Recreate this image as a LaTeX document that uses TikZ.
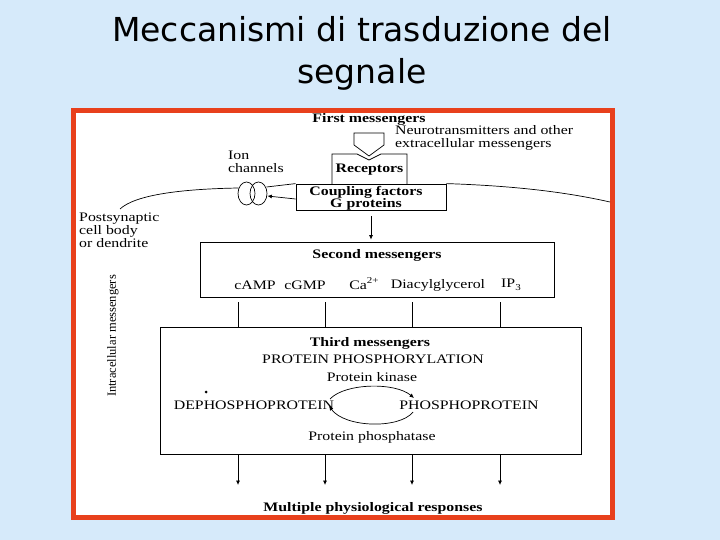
\documentclass[tikz,border=0pt]{standalone}
\usepackage{fontspec}
\setmainfont{Liberation Serif}[FakeStretch=1.22]
\newfontfamily\vfont{Liberation Serif}
\newfontfamily\titlefont{DejaVu Sans}
\usetikzlibrary{arrows.meta,shapes.geometric}
\definecolor{bgblue}{RGB}{214,234,250}
\definecolor{framered}{RGB}{232,64,28}
\newcommand{\supr}[1]{\raisebox{0.45em}{\fontsize{9}{9}\selectfont #1}}
\newcommand{\subr}[1]{\raisebox{-0.25em}{\fontsize{9}{9}\selectfont #1}}
\begin{document}
\begin{tikzpicture}[x=1pt,y=-1pt,
  lbl/.style={inner sep=0pt, font=\fontsize{13}{12.8}\selectfont},
  bl/.style={inner sep=0pt, font=\fontsize{13}{12.8}\selectfont\bfseries},
  box/.style={draw, line width=0.8pt, inner sep=0pt},
  conn/.style={line width=0.7pt},
  arr/.style={conn, -{Latex[length=4.5pt,width=4pt]}},
  ttl/.style={inner sep=0pt, anchor=base, font=\titlefont\fontsize{33}{40}\selectfont}]
\useasboundingbox (0,0) rectangle (720,540);
\fill[bgblue] (0,0) rectangle (720,540);
% title
\node[ttl] (t1) at (362,42) {Meccanismi di trasduzione del};
\node[ttl] (t2) at (362,84) {segnale};
% frame
\draw[line width=5pt, draw=framered, fill=white] (73.5,110.5) rectangle (612,517.5);
% first messengers
\node[bl] (first) at (369,119) {First messengers};
\node[lbl, align=left, anchor=west] (neuro) at (395,138) {Neurotransmitters and other\\extracellular messengers};
\draw[conn] (354,133) -- (384,133) -- (384,145) -- (369,156) -- (354,145) -- cycle;
% receptors
\draw[conn] (332,184) -- (332,154) -- (357,154) -- (369,160) -- (381,154) -- (407,154) -- (407,184);
\node[bl] (recept) at (369.5,169.5) {Receptors};
% coupling box
\node[box, minimum width=150, minimum height=26] (coupling) at (371,197) {};
\node[bl, align=center, font=\fontsize{13}{12}\selectfont\bfseries] (couptxt) at (366,198) {Coupling factors\\G proteins};
% ion channels
\node[draw, ellipse, line width=0.7pt, minimum width=17, minimum height=23, inner sep=0pt] (ion1) at (246.5,193.5) {};
\node[draw, ellipse, line width=0.7pt, minimum width=17, minimum height=23, inner sep=0pt] (ion2) at (258.5,193.5) {};
\node[lbl, align=left, anchor=west] (iontxt) at (228,161.5) {Ion\\channels};
% membrane
\draw[conn] (120,209) .. controls (135,195) and (180,189) .. (238.5,188);
\draw[conn] (266.5,187) -- (coupling.north west);
\draw[conn] (coupling.north east) .. controls (520,186) and (570,193) .. (610,202);
\node[lbl, align=left, anchor=west] (post) at (79,230) {Postsynaptic\\cell body\\or dendrite};
\draw[arr] ([yshift=-2pt]coupling.west) -- ([yshift=-2.5pt]ion2.east);
% second messengers
\node[box, minimum width=354, minimum height=55] (second) at (377,269.5) {};
\draw[arr, shorten <=6pt, shorten >=2pt] (coupling.south) -- (coupling.south |- second.north);
\node[bl] (sm) at (377,255) {Second messengers};
\node[lbl] (camp) at (255,285) {cAMP};
\node[lbl] (cgmp) at (305,285) {cGMP};
\node[lbl] (ca) at (364,284) {Ca\supr{2+}};
\node[lbl] (dag) at (438,285) {Diacylglycerol};
\node[lbl] (ip3) at (511,285) {IP\subr{3}};
% intracellular label
\node[inner sep=0pt, rotate=90, font=\vfont\fontsize{12.5}{14}\selectfont] (intra) at (113,336) {Intracellular messengers};
% third messengers
\node[box, minimum width=421, minimum height=127] (third) at (370.5,390.5) {};
\foreach \xx in {238,325,412,500} {
  \draw[conn] (\xx,0 |- second.south) ++(0,5) -- (\xx,0 |- third.north);
}
\node[bl] (tm) at (370,343) {Third messengers};
\node[lbl] (pp) at (373,359) {PROTEIN PHOSPHORYLATION};
\node[lbl] (pk) at (372,377) {Protein kinase};
\node[lbl] (deph) at (254,405) {DEPHOSPHOPROTEIN};
\node[lbl] (ph) at (469,405) {PHOSPHOPROTEIN};
\node[lbl] (pph) at (372,437) {Protein phosphatase};
\coordinate (ka) at (330,399);
\coordinate (kb) at (414,398);
\coordinate (pa) at (413,412);
\coordinate (pb) at (329,406);
\draw[arr] (ka) .. controls (345,383) and (395,382) .. (kb);
\draw[arr] (pa) .. controls (400,429) and (345,428) .. (pb);
\fill (206,392) circle (1.5pt);
% outputs
\foreach \xx in {238,325,412,500} {
  \coordinate (r\xx) at (\xx,485);
  \draw[arr] (\xx,0 |- third.south) -- (r\xx);
}
\node[bl] (resp) at (373,508) {Multiple physiological responses};
\end{tikzpicture}
\end{document}
